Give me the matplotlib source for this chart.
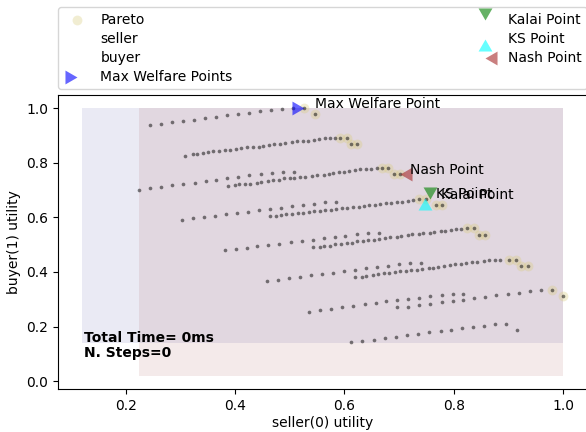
import matplotlib
matplotlib.use("Agg")
import matplotlib.pyplot as plt
from matplotlib.lines import Line2D

# outcome utilities (seller, buyer), one list pair per visible band of outcomes
row1_x = [0.244, 0.265, 0.285, 0.305, 0.325, 0.345, 0.365, 0.386, 0.406, 0.426, 0.446, 0.466, 0.486, 0.506, 0.527, 0.547]
row1_y = [0.939, 0.944, 0.949, 0.953, 0.958, 0.963, 0.968, 0.974, 0.979, 0.984, 0.989, 0.994, 0.997, 1.0, 1.0, 0.980]

row2_x = [0.309, 0.323, 0.330, 0.341, 0.350, 0.360, 0.370, 0.382, 0.391, 0.402, 0.411, 0.422, 0.432, 0.444, 0.452, 0.463,
          0.472, 0.483, 0.492, 0.504, 0.513, 0.524, 0.533, 0.544, 0.554, 0.565, 0.573, 0.582, 0.592, 0.604, 0.613, 0.624]
row2_y = [0.827, 0.831, 0.834, 0.837, 0.841, 0.842, 0.845, 0.846, 0.849, 0.850, 0.854, 0.857, 0.858, 0.860, 0.863, 0.865,
          0.869, 0.871, 0.874, 0.875, 0.879, 0.880, 0.882, 0.884, 0.887, 0.890, 0.892, 0.893, 0.892, 0.892, 0.871, 0.871]

row3a_x = [0.224, 0.244, 0.265, 0.285, 0.305, 0.326, 0.346, 0.366, 0.386, 0.406, 0.426, 0.447, 0.467, 0.487, 0.507]
row3a_y = [0.702, 0.709, 0.713, 0.718, 0.723, 0.728, 0.733, 0.739, 0.744, 0.749, 0.754, 0.759, 0.764, 0.768, 0.768]
row3b_x = [0.387, 0.399, 0.408, 0.419, 0.428, 0.440, 0.448, 0.460, 0.469, 0.480, 0.489, 0.500, 0.507, 0.519, 0.528, 0.541,
           0.550, 0.562, 0.571, 0.580, 0.590, 0.600, 0.609, 0.620, 0.629, 0.640, 0.649, 0.660, 0.668, 0.679, 0.690, 0.701]
row3b_y = [0.716, 0.718, 0.721, 0.722, 0.724, 0.728, 0.731, 0.733, 0.736, 0.739, 0.743, 0.743, 0.746, 0.749, 0.750, 0.753,
           0.754, 0.757, 0.760, 0.762, 0.765, 0.767, 0.770, 0.773, 0.776, 0.778, 0.779, 0.781, 0.782, 0.782, 0.761, 0.761]

row4a_x = [0.303, 0.323, 0.343, 0.363, 0.383, 0.403, 0.423, 0.444, 0.464, 0.484, 0.504, 0.524, 0.544, 0.565, 0.585]
row4a_y = [0.591, 0.597, 0.602, 0.607, 0.611, 0.617, 0.621, 0.626, 0.631, 0.636, 0.641, 0.646, 0.651, 0.656, 0.656]
row4b_x = [0.464, 0.474, 0.484, 0.494, 0.504, 0.515, 0.525, 0.535, 0.545, 0.555, 0.565, 0.575, 0.585, 0.595, 0.605, 0.615,
           0.626, 0.636, 0.646, 0.656, 0.666, 0.676, 0.686, 0.696, 0.706, 0.716, 0.726, 0.737, 0.750, 0.767, 0.779]
row4b_y = [0.604, 0.606, 0.609, 0.611, 0.613, 0.615, 0.618, 0.620, 0.622, 0.624, 0.627, 0.629, 0.631, 0.633, 0.636, 0.638,
           0.640, 0.643, 0.645, 0.647, 0.649, 0.652, 0.654, 0.656, 0.658, 0.661, 0.663, 0.668, 0.668, 0.647, 0.647]

row5a_x = [0.381, 0.401, 0.421, 0.441, 0.461, 0.481, 0.502, 0.522, 0.542, 0.562, 0.582, 0.602, 0.623, 0.643, 0.663]
row5a_y = [0.479, 0.484, 0.489, 0.494, 0.499, 0.504, 0.509, 0.514, 0.518, 0.523, 0.529, 0.533, 0.539, 0.544, 0.544]
row5b_x = [0.543, 0.555, 0.563, 0.574, 0.583, 0.594, 0.604, 0.614, 0.623, 0.635, 0.643, 0.655, 0.663, 0.675, 0.683, 0.696,
           0.704, 0.717, 0.724, 0.736, 0.744, 0.756, 0.764, 0.777, 0.785, 0.796, 0.805, 0.814, 0.824, 0.837, 0.846, 0.858]
row5b_y = [0.493, 0.493, 0.497, 0.497, 0.503, 0.503, 0.507, 0.506, 0.512, 0.512, 0.517, 0.517, 0.521, 0.523, 0.527, 0.529,
           0.532, 0.536, 0.538, 0.539, 0.542, 0.544, 0.547, 0.549, 0.552, 0.554, 0.556, 0.559, 0.561, 0.561, 0.536, 0.536]

row6a_x = [0.458, 0.478, 0.499, 0.519, 0.539, 0.559, 0.579, 0.599, 0.620, 0.640, 0.660, 0.680, 0.700, 0.720, 0.740]
row6a_y = [0.367, 0.372, 0.378, 0.382, 0.389, 0.393, 0.398, 0.403, 0.408, 0.413, 0.418, 0.423, 0.428, 0.433, 0.433]
row6b_x = [0.620, 0.632, 0.640, 0.652, 0.661, 0.672, 0.681, 0.692, 0.701, 0.713, 0.722, 0.733, 0.742, 0.754, 0.762, 0.772,
           0.782, 0.794, 0.803, 0.814, 0.823, 0.834, 0.843, 0.855, 0.864, 0.875, 0.884, 0.901, 0.914, 0.924, 0.936]
row6b_y = [0.380, 0.382, 0.386, 0.389, 0.392, 0.395, 0.397, 0.400, 0.402, 0.402, 0.407, 0.407, 0.412, 0.413, 0.415, 0.418,
           0.422, 0.425, 0.429, 0.431, 0.434, 0.435, 0.438, 0.441, 0.444, 0.444, 0.445, 0.445, 0.445, 0.423, 0.423]

row7a_x = [0.536, 0.556, 0.576, 0.596, 0.616, 0.637, 0.657, 0.677, 0.697, 0.717, 0.737, 0.757, 0.778, 0.798, 0.818]
row7a_y = [0.255, 0.260, 0.265, 0.270, 0.276, 0.282, 0.287, 0.292, 0.297, 0.302, 0.306, 0.311, 0.316, 0.321, 0.321]
row7b_x = [0.697, 0.717, 0.737, 0.757, 0.778, 0.798, 0.818, 0.838, 0.858, 0.878, 0.899, 0.919, 0.939, 0.959, 0.980, 1.0]
row7b_y = [0.270, 0.273, 0.278, 0.284, 0.289, 0.294, 0.299, 0.304, 0.309, 0.314, 0.319, 0.324, 0.329, 0.335, 0.335, 0.313]

row8_x = [0.613, 0.633, 0.654, 0.674, 0.695, 0.715, 0.735, 0.755, 0.776, 0.796, 0.816, 0.836, 0.856, 0.876, 0.896, 0.916]
row8_y = [0.145, 0.148, 0.152, 0.157, 0.162, 0.169, 0.174, 0.179, 0.184, 0.189, 0.194, 0.199, 0.203, 0.209, 0.209, 0.186]

pareto_x = [0.527, 0.547, 0.592, 0.604, 0.613, 0.624, 0.668, 0.679, 0.690, 0.701, 0.737, 0.750, 0.767, 0.779,
            0.824, 0.837, 0.846, 0.858, 0.901, 0.914, 0.924, 0.936, 0.980, 1.0]
pareto_y = [1.0, 0.980, 0.892, 0.892, 0.871, 0.871, 0.782, 0.782, 0.761, 0.761, 0.668, 0.668, 0.647, 0.647,
            0.561, 0.561, 0.536, 0.536, 0.445, 0.445, 0.423, 0.423, 0.335, 0.313]

# special points
welfare_pt = (0.527, 1.0)
kalai_pt = (0.757, 0.667)
ks_pt = (0.748, 0.670)
nash_pt = (0.701, 0.761)

# acceptable regions of the two agents: (x0, x1), (y0, y1)
seller_region = ([0.12, 1.0], [0.14, 1.0])
buyer_region = ([0.224, 1.0], [0.02, 1.0])

total_time_ms = 0
n_steps = 0

all_x = row1_x + row2_x + row3a_x + row3b_x + row4a_x + row4b_x + row5a_x + row5b_x + row6a_x + row6b_x + row7a_x + row7b_x + row8_x
all_y = row1_y + row2_y + row3a_y + row3b_y + row4a_y + row4b_y + row5a_y + row5b_y + row6a_y + row6b_y + row7a_y + row7b_y + row8_y

# triangle markers with their tip at the data point
tri_right = [(0, 0), (-1, 0.577), (-1, -0.577), (0, 0)]
tri_left = [(0, 0), (1, 0.577), (1, -0.577), (0, 0)]
tri_down = [(0, 0), (-0.577, 1), (0.577, 1), (0, 0)]
tri_up = [(0, 0), (-0.577, -1), (0.577, -1), (0, 0)]

fig = plt.figure(figsize=(5.86, 4.32), dpi=100)
ax = fig.add_axes([58 / 586, 43 / 432, 529 / 586, 294 / 432])

ax.fill_between(seller_region[0], seller_region[1][0], seller_region[1][1],
                color=(0.2, 0.2, 0.6), alpha=0.1, lw=0, zorder=0)
ax.fill_between(buyer_region[0], buyer_region[1][0], buyer_region[1][1],
                color=(0.6, 0.2, 0.2), alpha=0.1, lw=0, zorder=0)

h_pareto = ax.scatter(pareto_x, pareto_y, s=50, color=(0.85, 0.8, 0.5), alpha=0.35, lw=0, zorder=2)
ax.scatter(all_x, all_y, s=7, color="black", alpha=0.5, lw=0, zorder=3)

h_welfare = ax.scatter([welfare_pt[0]], [welfare_pt[1]], marker=tri_right, s=300, color="blue", alpha=0.6, lw=0, zorder=5)
h_kalai = ax.scatter([kalai_pt[0]], [kalai_pt[1]], marker=tri_down, s=300, color="green", alpha=0.6, lw=0, zorder=5)
h_ks = ax.scatter([ks_pt[0]], [ks_pt[1]], marker=tri_up, s=300, color="cyan", alpha=0.6, lw=0, zorder=5)
h_nash = ax.scatter([nash_pt[0]], [nash_pt[1]], marker=tri_left, s=300, color="brown", alpha=0.6, lw=0, zorder=5)

for pt, name in [(welfare_pt, "Max Welfare Point"), (nash_pt, "Nash Point"),
                 (ks_pt, "KS Point"), (kalai_pt, "Kalai Point")]:
    ax.text(pt[0] + 0.02, pt[1], name, fontsize=10, zorder=6)

empty = Line2D([], [], linestyle="none")
handles = [h_pareto, empty, empty, h_welfare, h_kalai, h_ks, h_nash]
labels = ["Pareto", "seller", "buyer", "Max Welfare Points", "Kalai Point", "KS Point", "Nash Point"]
ax.legend(handles, labels, bbox_to_anchor=(0.0, 1.02, 1.0, 0.102), loc="lower left",
          ncol=2, mode="expand", borderaxespad=0.0, labelspacing=0.35, handletextpad=0.65)

ax.text(0.05, 0.098, f"Total Time= {total_time_ms}ms\nN. Steps={n_steps}", transform=ax.transAxes,
        fontweight="bold", fontsize=10, va="bottom", linespacing=1.1)

ax.set_xlabel("seller(0) utility", labelpad=2)
ax.set_ylabel("buyer(1) utility")

fig.savefig("out.png", dpi=100)
